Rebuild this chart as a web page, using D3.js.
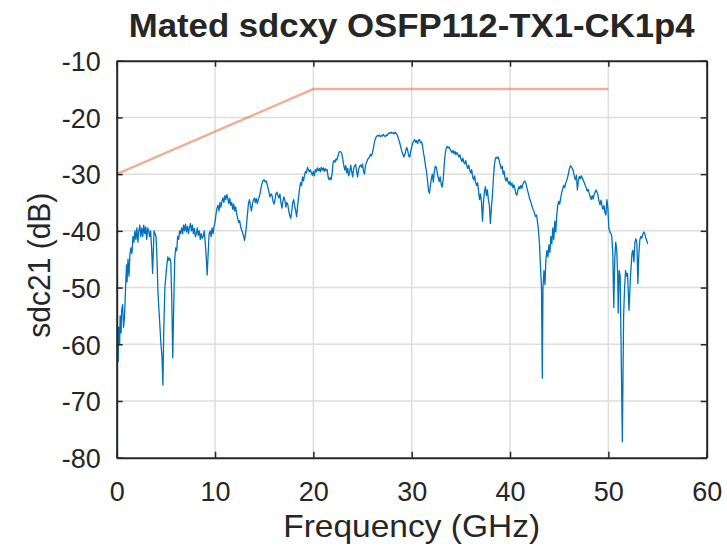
<!DOCTYPE html>
<html>
<head>
<meta charset="utf-8">
<script src="https://cdn.jsdelivr.net/npm/d3@7"></script>
<style>
  html, body { margin: 0; padding: 0; background: #fff; }
  svg { display: block; }
  text { font-family: "Liberation Sans", Arial, Helvetica, sans-serif; fill: #262626; }
</style>
</head>
<body>
<svg id="chart" width="727" height="548"></svg>
<script>
// Chart labels
const chartTitle = "Mated sdcxy OSFP112-TX1-CK1p4";
const xLabel = "Frequency (GHz)";
const yLabel = "sdc21 (dB)";

// Axis ticks
const xTicks = [0, 10, 20, 30, 40, 50, 60];
const yTicks = [-80, -70, -60, -50, -40, -30, -20, -10];

// Limit mask (GHz, dB)
const limitFreq = [0, 20, 50];
const limitDb = [-30, -15, -15];

// Measured sdc21 trace: [frequency GHz, dB]
const trace = [
  [0.00,-80],[0.02,-70],[0.05,-62],[0.10,-60],[0.15,-63],[0.20,-57],[0.30,-60],[0.35,-55],
  [0.45,-58],[0.50,-54],[0.60,-53],[0.70,-57],[0.80,-55],[0.90,-50],[1.00,-46],[1.05,-49],
  [1.15,-45],[1.25,-48],[1.35,-44],[1.45,-43],[1.55,-44],[1.65,-41],[1.75,-42],[1.85,-40],
  [1.95,-41.5],[2.05,-39.5],[2.15,-42],[2.25,-40],[2.35,-39],[2.45,-41],[2.55,-39.5],[2.65,-41],
  [2.75,-39],[2.85,-40.5],[2.95,-39.3],[3.05,-41.5],[3.15,-39.5],[3.25,-40],[3.35,-41],[3.45,-40],
  [3.55,-43],[3.65,-47.5],[3.72,-44],[3.80,-40],[3.90,-40.5],[4.00,-41],[4.10,-45],[4.20,-51],
  [4.30,-54],[4.40,-57],[4.50,-60],[4.60,-62],[4.70,-67.2],[4.78,-58],[4.90,-50],[5.00,-48],
  [5.10,-46],[5.20,-44.6],[5.30,-45.2],[5.40,-44.8],[5.50,-45.5],[5.60,-52],[5.70,-62.4],[5.78,-55],
  [5.90,-45],[6.00,-43],[6.10,-43.5],[6.20,-41],[6.30,-41.5],[6.40,-40],[6.50,-40.5],[6.60,-39.5],
  [6.70,-40.5],[6.80,-39],[6.90,-40],[7.00,-38.8],[7.10,-40.2],[7.20,-39.2],[7.30,-40.5],[7.40,-39.4],
  [7.50,-38.7],[7.60,-40],[7.70,-39],[7.80,-40.5],[7.90,-39.6],[8.00,-41],[8.10,-40.5],[8.20,-39.5],
  [8.30,-40.8],[8.40,-40],[8.50,-41.5],[8.60,-40.5],[8.70,-41.3],[8.80,-41],[8.90,-40],[9.00,-42],
  [9.10,-44.5],[9.20,-47.8],[9.30,-44],[9.40,-40.5],[9.50,-40],[9.60,-41],[9.70,-39.5],[9.80,-40.5],
  [9.90,-39.2],[10.00,-38.5],[10.10,-37],[10.20,-36],[10.30,-35.5],[10.40,-36.5],[10.50,-35],[10.60,-35.8],
  [10.70,-34.8],[10.80,-34.2],[10.90,-35],[11.00,-33.8],[11.10,-34.5],[11.20,-33.6],[11.30,-34.2],[11.40,-35.2],
  [11.50,-34.3],[11.60,-35.5],[11.70,-35],[11.80,-36.2],[11.90,-35.3],[12.00,-36.5],[12.10,-35.8],[12.20,-37],
  [12.30,-37.8],[12.40,-38.5],[12.50,-38.2],[12.60,-39.2],[12.70,-39.8],[12.80,-40.3],[12.90,-40.9],[13.00,-41.7],
  [13.10,-40.5],[13.20,-39],[13.30,-37],[13.40,-35.2],[13.50,-34.5],[13.60,-35.5],[13.70,-36.5],[13.80,-35.3],
  [13.90,-34.6],[14.00,-34.2],[14.10,-35],[14.20,-34.3],[14.30,-35.2],[14.40,-34.5],[14.50,-34],[14.60,-33.2],
  [14.70,-32.2],[14.80,-31.5],[14.90,-31.1],[15.00,-31],[15.10,-31.4],[15.20,-31.2],[15.30,-31.8],[15.40,-32.5],
  [15.50,-33.3],[15.60,-34],[15.70,-33.5],[15.80,-33.8],[15.90,-34.8],[16.00,-35.3],[16.10,-34.5],[16.20,-33.4],
  [16.30,-33.2],[16.40,-33.8],[16.50,-34.2],[16.60,-33.5],[16.70,-35],[16.80,-36],[16.90,-34.8],[17.00,-34],
  [17.10,-34.6],[17.20,-35.8],[17.30,-35],[17.40,-35.4],[17.50,-36.5],[17.60,-37.3],[17.70,-37.8],[17.80,-36.5],
  [17.90,-35],[18.00,-34.5],[18.10,-35.6],[18.20,-36.5],[18.30,-37.5],[18.40,-35.5],[18.50,-34],[18.60,-32.5],
  [18.70,-31.5],[18.80,-32],[18.90,-30.5],[19.00,-31.2],[19.10,-30.2],[19.20,-29.5],[19.30,-29.8],[19.40,-28.8],
  [19.50,-29.3],[19.60,-29.6],[19.70,-29.2],[19.80,-29.8],[19.90,-30.2],[20.00,-29.5],[20.10,-30.3],[20.20,-29.2],
  [20.30,-29.6],[20.40,-28.9],[20.50,-29.4],[20.60,-29],[20.70,-29.6],[20.80,-28.8],[20.90,-29.3],[21.00,-28.9],
  [21.10,-29.5],[21.20,-29],[21.30,-29.4],[21.40,-29.2],[21.50,-30.5],[21.60,-31],[21.70,-30.6],[21.80,-31],
  [21.90,-30],[22.00,-28],[22.10,-27.6],[22.20,-27.9],[22.30,-27.3],[22.40,-27.5],[22.50,-26.8],[22.60,-26.2],
  [22.70,-26],[22.80,-26.1],[22.90,-26.4],[23.00,-27.5],[23.10,-28.5],[23.20,-29.3],[23.30,-28.5],[23.40,-29.8],
  [23.50,-29],[23.60,-30.3],[23.70,-29.5],[23.80,-28.4],[23.90,-29.6],[24.00,-30.5],[24.10,-29],[24.20,-28.5],
  [24.30,-28.3],[24.40,-29.5],[24.50,-30.5],[24.60,-29.2],[24.70,-28.6],[24.80,-28.4],[24.90,-28.8],[25.00,-28.2],
  [25.10,-29.5],[25.20,-30],[25.30,-28.5],[25.40,-28],[25.50,-27.5],[25.60,-27.2],[25.70,-27],[25.80,-26.5],
  [25.90,-26.8],[26.00,-26.3],[26.10,-25.5],[26.20,-24.5],[26.30,-23.8],[26.40,-23.4],[26.50,-23.2],[26.60,-23.3],
  [26.70,-23.1],[26.80,-23.4],[26.90,-23.2],[27.00,-23.3],[27.10,-23],[27.20,-23.2],[27.30,-23.4],[27.40,-23.1],
  [27.50,-23.2],[27.60,-22.9],[27.70,-22.7],[27.80,-22.8],[27.90,-22.6],[28.00,-22.8],[28.10,-22.7],[28.20,-22.9],
  [28.30,-22.6],[28.40,-22.8],[28.50,-23],[28.60,-23.5],[28.70,-24],[28.80,-24.6],[28.90,-25.3],[29.00,-26],
  [29.10,-26.5],[29.20,-27],[29.30,-26.6],[29.40,-25.8],[29.50,-25.3],[29.60,-25.9],[29.70,-26.8],[29.80,-27],
  [29.90,-26],[30.00,-25.2],[30.10,-24.5],[30.20,-24.2],[30.30,-23.9],[30.40,-24.4],[30.50,-24.1],[30.60,-24.6],
  [30.70,-24],[30.80,-23.9],[30.90,-24.5],[31.00,-24.3],[31.10,-25],[31.20,-26.3],[31.30,-27.2],[31.40,-28.5],
  [31.50,-29.5],[31.60,-31],[31.70,-32.8],[31.80,-33.4],[31.90,-32],[32.00,-30.8],[32.10,-30],[32.20,-31.4],
  [32.30,-29.5],[32.40,-28.6],[32.50,-28.8],[32.60,-29.8],[32.70,-30.6],[32.80,-31.3],[32.90,-30.5],[33.00,-31.8],
  [33.10,-32.3],[33.20,-31],[33.30,-28.5],[33.40,-26.5],[33.50,-25.5],[33.60,-25.1],[33.70,-25.4],[33.80,-25.2],
  [33.90,-25.6],[34.00,-25.9],[34.10,-26.2],[34.20,-25.8],[34.30,-26.4],[34.40,-26],[34.50,-26.6],[34.60,-26.2],
  [34.70,-26.5],[34.80,-27],[34.90,-26.6],[35.00,-27.3],[35.10,-27.8],[35.20,-27.2],[35.30,-27.9],[35.40,-28.2],
  [35.50,-27.6],[35.60,-28.5],[35.70,-29],[35.80,-28.4],[35.90,-29.3],[36.00,-29.8],[36.10,-29.2],[36.20,-30.5],
  [36.30,-31],[36.40,-30.3],[36.50,-31.5],[36.60,-32],[36.70,-31.5],[36.80,-33],[36.90,-34.5],[37.00,-33.5],
  [37.10,-35],[37.20,-38.3],[37.30,-35],[37.40,-33],[37.50,-32.2],[37.60,-33.8],[37.70,-32.8],[37.80,-34.5],
  [37.90,-35.5],[38.00,-38.7],[38.10,-36],[38.20,-34],[38.30,-31],[38.40,-28.5],[38.50,-27.3],[38.60,-27],
  [38.70,-27.2],[38.80,-27],[38.90,-27.6],[39.00,-28.4],[39.10,-29],[39.20,-28.6],[39.30,-30],[39.40,-29.5],
  [39.50,-30.8],[39.60,-31.2],[39.70,-30.6],[39.80,-31.4],[39.90,-31.8],[40.00,-31.3],[40.10,-32],[40.20,-31.6],
  [40.30,-32.4],[40.40,-31.9],[40.50,-32.6],[40.60,-33.5],[40.70,-33.7],[40.80,-32.8],[40.90,-32.2],[41.00,-32.6],
  [41.10,-32],[41.20,-32.5],[41.30,-31.8],[41.40,-31.4],[41.50,-31.2],[41.60,-31.6],[41.70,-32.3],[41.80,-33],
  [41.90,-33.6],[42.00,-34.4],[42.10,-34.8],[42.20,-35.5],[42.30,-36],[42.40,-36.4],[42.50,-37],[42.60,-37.5],
  [42.70,-37.2],[42.80,-38.5],[42.90,-40],[43.00,-42.5],[43.10,-46.5],[43.20,-50],[43.28,-66],[43.35,-50],
  [43.45,-47],[43.55,-49.5],[43.65,-45],[43.75,-43.5],[43.85,-44.6],[43.95,-42.5],[44.05,-43.8],[44.15,-41],
  [44.25,-42.3],[44.35,-39.5],[44.45,-41.5],[44.55,-38.3],[44.65,-40.2],[44.75,-37.2],[44.85,-35.5],[44.95,-34.8],
  [45.05,-35.3],[45.15,-34.2],[45.25,-33.3],[45.35,-32.6],[45.45,-32],[45.55,-32.4],[45.65,-31.6],[45.75,-31.2],
  [45.85,-30.6],[45.95,-29.8],[46.05,-29],[46.15,-28.5],[46.25,-28.8],[46.35,-29],[46.45,-29.6],[46.55,-30.5],
  [46.65,-31],[46.75,-30.2],[46.85,-32.8],[46.95,-31.2],[47.05,-30.4],[47.15,-30.8],[47.25,-30.3],[47.35,-30.7],
  [47.45,-31.1],[47.55,-31.5],[47.65,-32],[47.75,-32.4],[47.85,-33],[47.95,-32.7],[48.05,-33.4],[48.15,-34],
  [48.25,-34.5],[48.35,-33.8],[48.45,-34.4],[48.55,-33.6],[48.65,-33.2],[48.75,-32.8],[48.85,-33.2],[48.95,-33.8],
  [49.05,-34.8],[49.15,-35.4],[49.25,-34.6],[49.35,-35.6],[49.45,-36.2],[49.55,-35.5],[49.65,-36.8],[49.75,-37.2],
  [49.85,-34.5],[49.95,-36],[50.05,-39.5],[50.15,-40.2],[50.25,-40.4],[50.35,-41],[50.45,-44],[50.55,-53.5],
  [50.65,-45],[50.75,-42],[50.85,-43.4],[50.95,-48],[51.00,-54.5],[51.10,-47],[51.20,-48],[51.30,-61],
  [51.42,-77.2],[51.55,-55],[51.65,-50],[51.75,-47],[51.85,-48],[51.95,-47.5],[52.10,-54],[52.25,-48],
  [52.40,-44],[52.50,-43.4],[52.60,-45.5],[52.70,-42],[52.80,-41.4],[52.90,-42.2],[53.00,-49.3],[53.10,-44],
  [53.20,-41.6],[53.30,-41],[53.40,-41.3],[53.50,-40.6],[53.60,-40.2],[53.70,-40.5],[53.80,-41.2],[53.90,-41.7],
  [54.00,-42.3]
];

const svg = d3.select("#chart");
const margin = { left: 116.7, top: 60.7, right: 727 - 706.7, bottom: 548 - 457.7 };
const W = 727 - margin.left - margin.right;
const H = 548 - margin.top - margin.bottom;

const x = d3.scaleLinear().domain([0, 60]).range([0, W]);
const y = d3.scaleLinear().domain([-80, -10]).range([H, 0]);

const g = svg.append("g").attr("transform", `translate(${margin.left},${margin.top})`);

svg.append("defs").append("clipPath").attr("id", "plotClip")
  .append("rect").attr("x", 0).attr("y", 0).attr("width", W).attr("height", H);

// Grid lines
const grid = g.append("g").attr("class", "grid");
grid.selectAll("line.vx").data(xTicks.slice(1, -1)).enter().append("line")
  .attr("x1", d => x(d)).attr("x2", d => x(d)).attr("y1", 0).attr("y2", H)
  .attr("stroke", "#dedede").attr("stroke-width", 1.5);
grid.selectAll("line.hy").data(yTicks.slice(1, -1)).enter().append("line")
  .attr("x1", 0).attr("x2", W).attr("y1", d => y(d)).attr("y2", d => y(d))
  .attr("stroke", "#dedede").attr("stroke-width", 1.5);

// Limit mask
const limitPts = limitFreq.map((f, i) => [f, limitDb[i]]);
g.append("path").datum(limitPts)
  .attr("fill", "none").attr("stroke", "#D95319").attr("stroke-opacity", 0.45)
  .attr("stroke-width", 2.4)
  .attr("d", d3.line().x(d => x(d[0])).y(d => y(d[1])));

// Measured trace
g.append("path").datum(trace)
  .attr("clip-path", "url(#plotClip)")
  .attr("fill", "none").attr("stroke", "#0072BD").attr("stroke-width", 1.3)
  .attr("stroke-linejoin", "round")
  .attr("d", d3.line().x(d => x(d[0])).y(d => y(d[1])));

// Axes (box with inward ticks); plain hyphen for negative labels
const tickLen = 6;
const axisColor = "#262626";
const fmt = d => String(d);
const xb = g.append("g").attr("transform", `translate(0,${H})`)
  .call(d3.axisBottom(x).tickValues(xTicks).tickFormat(fmt).tickSizeInner(-tickLen).tickSizeOuter(0).tickPadding(24));
const xt = g.append("g")
  .call(d3.axisTop(x).tickValues(xTicks).tickSizeInner(-tickLen).tickSizeOuter(0).tickFormat(""));
const yl = g.append("g")
  .call(d3.axisLeft(y).tickValues(yTicks).tickFormat(fmt).tickSizeInner(-tickLen).tickSizeOuter(0).tickPadding(16));
const yr = g.append("g").attr("transform", `translate(${W},0)`)
  .call(d3.axisRight(y).tickValues(yTicks).tickSizeInner(-tickLen).tickSizeOuter(0).tickFormat(""));

[xb, xt, yl, yr].forEach(a => {
  a.select(".domain").attr("stroke", axisColor).attr("stroke-width", 2);
  a.selectAll(".tick line").attr("stroke", axisColor).attr("stroke-width", 1.5);
  a.selectAll(".tick text").attr("fill", axisColor)
    .style("font-size", "27px").style("font-family", "'Liberation Sans', Arial, sans-serif");
});
yl.selectAll(".tick text").attr("dy", "0.36em");

// Title and axis labels
svg.append("text").attr("x", margin.left + W / 2).attr("y", 37)
  .attr("text-anchor", "middle").style("font-size", "33px").style("font-weight", "bold")
  .attr("textLength", 566).attr("lengthAdjust", "spacingAndGlyphs")
  .attr("fill", "#000").text(chartTitle);

svg.append("text").attr("x", margin.left + W / 2).attr("y", 537)
  .attr("text-anchor", "middle").style("font-size", "32px")
  .attr("textLength", 257).attr("lengthAdjust", "spacingAndGlyphs").text(xLabel);

svg.append("text").attr("transform", `translate(50,${margin.top + H / 2 + 6}) rotate(-90)`)
  .attr("text-anchor", "middle").style("font-size", "32px")
  .attr("textLength", 145).attr("lengthAdjust", "spacingAndGlyphs").text(yLabel);
</script>
</body>
</html>
